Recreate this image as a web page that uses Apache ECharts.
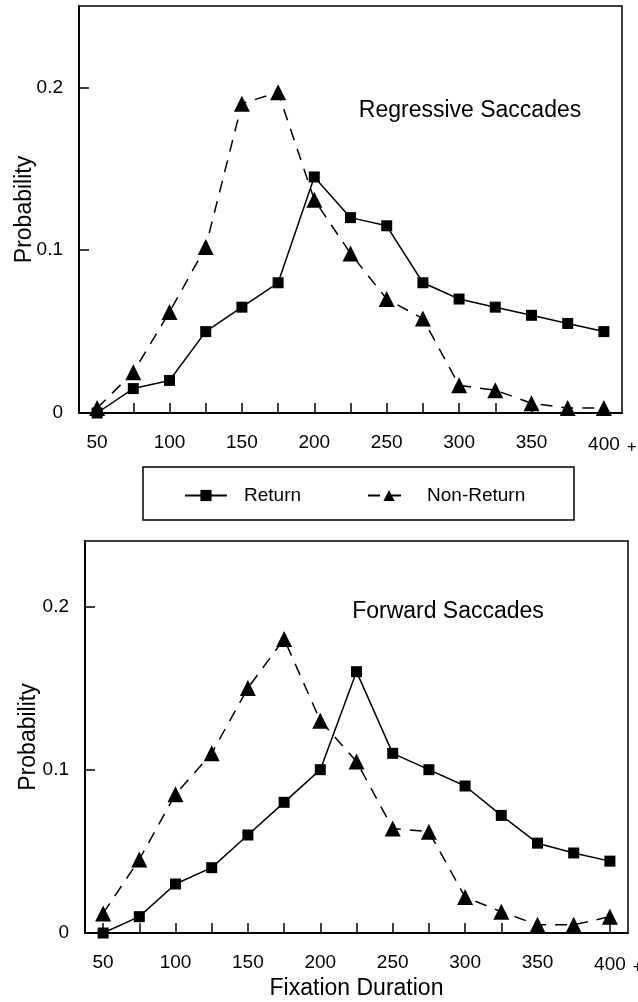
<!DOCTYPE html>
<html>
<head>
<meta charset="utf-8">
<script src="https://cdn.jsdelivr.net/npm/echarts@6/dist/echarts.min.js"></script>
<style>
  html, body { margin: 0; padding: 0; background: #fff; }
  #chart { width: 638px; height: 1002px; }
</style>
</head>
<body>
<div id="chart"></div>
<script>
// ---- data ----
var durations = ['50','75','100','125','150','175','200','225','250','275','300','325','350','375','400'];
var seriesNames = ['Return', 'Non-Return'];
var panelTitles = ['Regressive Saccades', 'Forward Saccades'];
var xAxisTitle = 'Fixation Duration';
var yAxisTitle = 'Probability';
// Regressive saccades (top panel)
var regReturn    = [0, 0.015, 0.02, 0.05, 0.065, 0.08, 0.145, 0.12, 0.115, 0.08, 0.07, 0.065, 0.06, 0.055, 0.05];
var regNonReturn = [0.003, 0.025, 0.062, 0.102, 0.19, 0.197, 0.131, 0.098, 0.07, 0.058, 0.017, 0.014, 0.006, 0.003, 0.003];
// Forward saccades (bottom panel)
var fwdReturn    = [0, 0.01, 0.03, 0.04, 0.06, 0.08, 0.1, 0.16, 0.11, 0.1, 0.09, 0.072, 0.055, 0.049, 0.044];
var fwdNonReturn = [0.012, 0.045, 0.085, 0.11, 0.15, 0.18, 0.13, 0.105, 0.064, 0.062, 0.022, 0.013, 0.005, 0.005, 0.01];
var yMax = [0.25, 0.24];

var FONT = "'Liberation Sans', Arial, Helvetica, sans-serif";

function xAxisCfg(gi, withName) {
  return {
    type: 'category', gridIndex: gi, data: durations, boundaryGap: true,
    axisLine: { show: true, lineStyle: { color: '#000', width: 2 } },
    axisTick: { show: true, inside: false, length: -10, alignWithLabel: true, interval: 0, lineStyle: { color: '#000', width: 1.5 } },
    axisLabel: {
      interval: 1, margin: 20, color: '#000', fontSize: 19, fontFamily: FONT,
      formatter: function (v) { return v === '400' ? '{s|}{n|400}{p|+}' : v; },
      rich: {
        s: { width: 17 },
        n: { fontSize: 19, fontFamily: FONT, color: '#000' },
        p: { fontSize: 17, fontFamily: FONT, color: '#000', padding: [6, 0, 0, 7] }
      }
    },
    splitLine: { show: false },
    name: withName ? xAxisTitle : '', nameLocation: 'middle', nameGap: 44,
    nameTextStyle: { color: '#000', fontSize: 23, fontFamily: FONT }
  };
}
function yAxisCfg(gi, max, gap) {
  return {
    type: 'value', gridIndex: gi, min: 0, max: max, interval: 0.1,
    axisLine: { show: true, lineStyle: { color: '#000', width: 2 } },
    axisTick: { show: true, inside: false, length: -10, lineStyle: { color: '#000', width: 1.5 } },
    axisLabel: { color: '#000', fontSize: 19, fontFamily: FONT, margin: 16, showMaxLabel: false },
    splitLine: { show: false },
    name: yAxisTitle, nameLocation: 'middle', nameGap: gap, nameRotate: 90, nameMoveOverlap: false,
    nameTextStyle: { color: '#000', fontSize: 23, fontFamily: FONT }
  };
}
function lineSeries(name, data, gi, dashed) {
  return {
    name: name, type: 'line', xAxisIndex: gi, yAxisIndex: gi, data: data,
    symbol: dashed ? 'triangle' : 'rect', symbolSize: dashed ? 16 : 11,
    showSymbol: true,
    itemStyle: { color: '#000' },
    lineStyle: { color: '#000', width: 1.5, type: dashed ? [12, 9] : 'solid' },
    animation: false
  };
}

var chart = echarts.init(document.getElementById('chart'), null, { renderer: 'canvas' });
chart.setOption({
  backgroundColor: '#fff',
  animation: false,
  grid: [
    { left: 79, top: 6, width: 543, height: 407, show: true, borderColor: '#000', borderWidth: 1.5, backgroundColor: 'transparent', containLabel: false, outerBoundsMode: 'none' },
    { left: 85, top: 541, width: 543, height: 392, show: true, borderColor: '#000', borderWidth: 1.5, backgroundColor: 'transparent', containLabel: false, outerBoundsMode: 'none' }
  ],
  xAxis: [xAxisCfg(0, false), xAxisCfg(1, true)],
  yAxis: [yAxisCfg(0, yMax[0], 43), yAxisCfg(1, yMax[1], 45)],
  legend: {
    data: seriesNames, left: 179, top: 481, itemWidth: 42, itemHeight: 14, itemGap: 66,
    textStyle: { color: '#000', fontSize: 19, fontFamily: FONT, padding: [0, 0, 0, 12] },
    inactiveColor: '#000'
  },
  graphic: [
    { type: 'rect', shape: { x: 143, y: 467, width: 431, height: 53 }, style: { fill: 'none', stroke: '#000', lineWidth: 1.5 } },
    { type: 'text', style: { x: 470, y: 111, text: panelTitles[0], textAlign: 'center', textVerticalAlign: 'middle', fill: '#000', font: '23px ' + FONT } },
    { type: 'text', style: { x: 448, y: 612, text: panelTitles[1], textAlign: 'center', textVerticalAlign: 'middle', fill: '#000', font: '23px ' + FONT } }
  ],
  series: [
    lineSeries(seriesNames[0], regReturn, 0, false),
    lineSeries(seriesNames[1], regNonReturn, 0, true),
    lineSeries(seriesNames[0], fwdReturn, 1, false),
    lineSeries(seriesNames[1], fwdNonReturn, 1, true)
  ]
});
</script>
</body>
</html>
